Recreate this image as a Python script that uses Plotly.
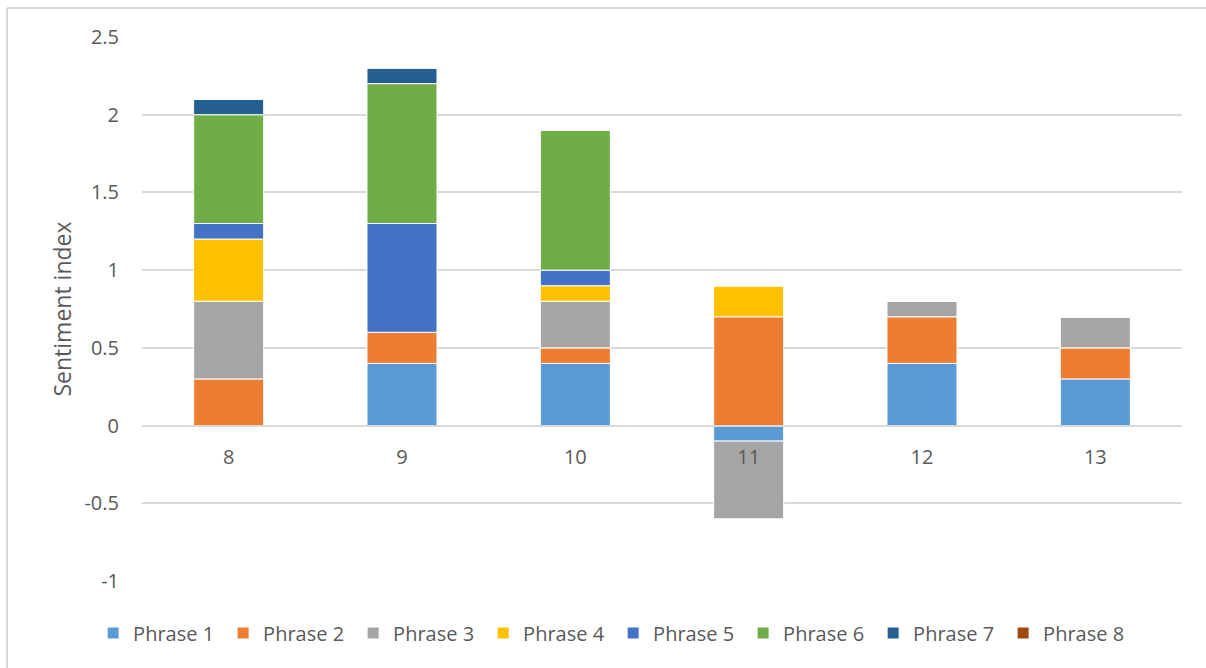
import plotly.graph_objects as go

categories = ["8", "9", "10", "11", "12", "13"]
phrase_names = ["Phrase 1", "Phrase 2", "Phrase 3", "Phrase 4",
                "Phrase 5", "Phrase 6", "Phrase 7", "Phrase 8"]
phrase1 = [0.0, 0.4, 0.4, -0.1, 0.4, 0.3]
phrase2 = [0.3, 0.2, 0.1, 0.7, 0.3, 0.2]
phrase3 = [0.5, 0.0, 0.3, -0.5, 0.1, 0.2]
phrase4 = [0.4, 0.0, 0.1, 0.2, 0.0, 0.0]
phrase5 = [0.1, 0.7, 0.1, 0.0, 0.0, 0.0]
phrase6 = [0.7, 0.9, 0.9, 0.0, 0.0, 0.0]
phrase7 = [0.1, 0.1, 0.0, 0.0, 0.0, 0.0]
phrase8 = [0.0, 0.0, 0.0, 0.0, 0.0, 0.0]
series = [phrase1, phrase2, phrase3, phrase4, phrase5, phrase6, phrase7, phrase8]
colors = ["#5B9BD5", "#ED7D31", "#A5A5A5", "#FFC000",
          "#4472C4", "#70AD47", "#255E91", "#9E480E"]
y_tickvals = [-1, -0.5, 0, 0.5, 1, 1.5, 2, 2.5]
y_ticktext = ["-1", "-0.5", "0", "0.5", "1", "1.5", "2", "2.5"]

FONT = "Open Sans, Liberation Sans, sans-serif"
TXT = "#595959"

fig = go.Figure()
for name, vals, col in zip(phrase_names, series, colors):
    fig.add_trace(go.Bar(
        x=categories, y=vals, name=name,
        marker=dict(color=col, line=dict(color="white", width=1)),
    ))

ymin, ymax = -1, 2.5
zero_pos = (0 - ymin) / (ymax - ymin)

fig.update_layout(
    barmode="relative",
    bargap=0.596,
    width=1206, height=668,
    margin=dict(l=142, r=24, t=37, b=87, autoexpand=False),
    paper_bgcolor="white", plot_bgcolor="white",
    font=dict(family=FONT, color=TXT, size=20),
    showlegend=True,
    legend=dict(orientation="h", x=-0.047, xanchor="left", y=-0.0956, yanchor="middle",
                font=dict(size=20, color=TXT), traceorder="normal",
                itemwidth=30, tracegroupgap=0,
                entrywidth=85, entrywidthmode="pixels"),
    xaxis=dict(type="category", anchor="free", position=zero_pos,
               showline=True, linecolor="#D9D9D9", linewidth=1.5,
               showgrid=False, ticks="", tickfont=dict(size=20, color=TXT),
               ticklabelstandoff=14),
    yaxis=dict(range=[ymin, ymax], tickmode="array",
               tickvals=y_tickvals, ticktext=y_ticktext,
               showgrid=True, gridcolor="#D9D9D9", gridwidth=1.5,
               zeroline=False, showline=False, ticks="",
               tickfont=dict(size=20, color=TXT), ticklabelstandoff=22,
               title=dict(text="Sentiment index", font=dict(size=23, color=TXT), standoff=6)),
)

# chart area border (left and top visible)
fig.add_shape(type="line", xref="paper", yref="paper",
              x0=-0.1298, x1=-0.1298, y0=-0.2, y1=1.0533,
              line=dict(color="#D9D9D9", width=2))
fig.add_shape(type="line", xref="paper", yref="paper",
              x0=-0.1298, x1=1.1, y0=1.0533, y1=1.0533,
              line=dict(color="#D9D9D9", width=2))

fig.write_html("out.html", config={"displayModeBar": False},
               post_script="document.body.style.margin='0';")
